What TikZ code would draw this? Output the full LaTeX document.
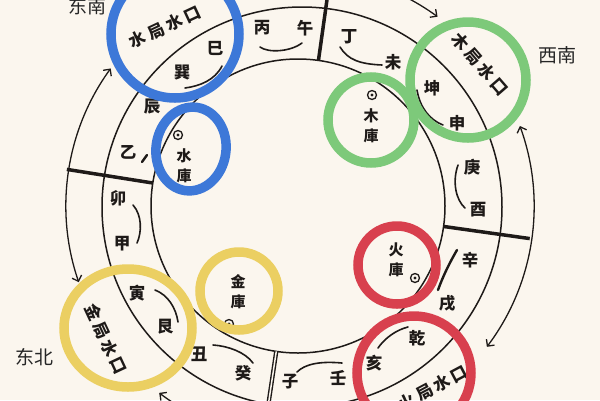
\documentclass[tikz,border=0pt]{standalone}
\usepackage{fontspec}
\newfontfamily\cjk{Noto Sans CJK SC}
\usetikzlibrary{arrows.meta,calc}
\definecolor{bg}{HTML}{FBF6EE}
\definecolor{ringblue}{HTML}{3D78D8}
\definecolor{ringgreen}{HTML}{7DC97A}
\definecolor{ringred}{HTML}{D8404E}
\definecolor{ringyellow}{HTML}{EBCF62}
\definecolor{ink}{HTML}{1E1A18}
\begin{document}
\begin{tikzpicture}[x=1pt,y=-1pt,
  mtn/.style={inner sep=0pt,font=\cjk\bfseries\fontsize{16.5}{16.5}\selectfont,text=ink},
  ku/.style={inner sep=0pt,align=center,font=\cjk\bfseries\fontsize{15}{20}\selectfont,text=ink},
  kou/.style={inner sep=0pt,font=\cjk\bfseries\fontsize{16.5}{16.5}\selectfont,text=ink},
  dirlabel/.style={inner sep=0pt,font=\cjk\fontsize{19}{19}\selectfont,text=black!85},
  ringline/.style={line width=1.5pt,draw=ink},
  pairarc/.style={line width=1.6pt,draw=ink,line cap=round},
  divider/.style={line width=3.5pt,draw=ink},
  arrowarc/.style={line width=1.3pt,draw=ink},
  barb/.tip={Straight Barb[length=5pt,width=10pt,line width=1.3pt]},
  zhu/.style={circle,draw=ink,line width=1.3pt,minimum size=9pt,inner sep=0pt},
  hl/.style={line width=9.5pt}
]
\useasboundingbox (0,0) rectangle (600,400);
\fill[bg] (0,0) rectangle (600,400);
\clip (0,0) rectangle (600,400);

\coordinate (C) at (298,206);
\coordinate (M) at (302,207);
\coordinate (A) at (300,206);

% rings
\draw[ringline] (C) circle[radius=147];
\draw[ringline] (M) circle[radius=200];

% dividers
\draw[divider] ($(C)+(-82:147)$) -- ($(C)+(-82:240)$);
\draw[divider] ($(C)+(-171:147)$) -- ($(C)+(-171:234)$);
\draw[divider] ($(C)+(8:147)$) -- ($(C)+(8:234)$);
\draw[divider,double=bg,double distance=1.5pt,line width=1.4pt] ($(C)+(98.5:147)$) -- ($(C)+(98.5:240)$);

% outer arrow arcs
\draw[arrowarc,barb-barb] ($(A)+(-144:234)$) arc[start angle=-144,end angle=-199,radius=234];
\draw[arrowarc,barb-barb] ($(A)+(-20:234)$) arc[start angle=-20,end angle=37,radius=234];
\draw[arrowarc,-barb] ($(A)+(-115:234)$) arc[start angle=-115,end angle=-54,radius=234];
\draw[arrowarc,-barb] ($(A)+(-298:234)$) arc[start angle=-298,end angle=-233,radius=234];

% 24 mountains
\node[mtn] (bing) at (262,28) {丙};
\node[mtn] (wu) at (305,28) {午};
\node[mtn] (ding) at (349,37) {丁};
\node[mtn] (wei) at (393,62) {未};
\node[mtn] (kun) at (432,88) {坤};
\node[mtn] (shen) at (457,123) {申};
\node[mtn] (geng) at (472,167) {庚};
\node[mtn] (you) at (478,210) {酉};
\node[mtn] (xin) at (470,260) {辛};
\node[mtn] (xu) at (447,303) {戌};
\node[mtn] (qian) at (417,338) {乾};
\node[mtn] (hai) at (374,363) {亥};
\node[mtn] (ren) at (338,378) {壬};
\node[mtn] (zi) at (290,382) {子};
\node[mtn] (gui) at (243,373) {癸};
\node[mtn] (chou) at (199,354) {丑};
\node[mtn] (gen) at (165,327) {艮};
\node[mtn] (yin) at (137,293) {寅};
\node[mtn] (jia) at (122,244) {甲};
\node[mtn] (mao) at (118,198) {卯};
\node[mtn] (yi) at (128,152) {乙};
\node[mtn] (chen) at (152,107) {辰};
\node[mtn] (xun) at (182,73) {巽};
\node[mtn] (si) at (215,48) {巳};

% pair arcs
\draw[pairarc] (260,47) .. controls (268,53) and (290,52) .. (302,43);
\draw[pairarc] (340,47) .. controls (348,60) and (360,64) .. (382,65);
\draw[pairarc] (417,90) .. controls (420,108) and (430,120) .. (443,125);
\draw[pairarc] (458,165) .. controls (452,182) and (456,200) .. (465,208);
\draw[pairarc,line width=2.4pt] (457,250) .. controls (450,262) and (443,276) .. (438,290);
\draw[pairarc] (408,327) .. controls (396,330) and (385,338) .. (378,348);
\draw[pairarc] (297,372) .. controls (305,364) and (320,361) .. (342,363);
\draw[pairarc] (213,345) .. controls (228,346) and (245,352) .. (253,363);
\draw[pairarc] (155,290) .. controls (168,295) and (176,308) .. (178,322);
\draw[pairarc] (133,205) .. controls (142,215) and (142,232) .. (137,243);
\draw[pairarc] (185,88) .. controls (200,86) and (215,80) .. (222,66);
\draw[pairarc,line width=2.4pt] (142,162) -- (147,155);

% treasuries
\node[zhu] (zshui) at (178,135) {};
\fill[ink] (zshui.center) circle[radius=1.6];
\node[ku] (shuiku) at (184,166) {水\\庫};
\node[zhu] (zmu) at (372,95) {};
\fill[ink] (zmu.center) circle[radius=1.6];
\node[ku] (muku) at (371,126) {木\\庫};
\node[zhu] (zhuo) at (415,278) {};
\fill[ink] (zhuo.center) circle[radius=1.6];
\node[ku] (huoku) at (396,260) {火\\庫};
\node[zhu] (zjin) at (229,324) {};
\fill[ink] (zjin.center) circle[radius=1.6];
\node[ku] (jinku) at (238,292) {金\\庫};

% water exits
\node[kou,rotate=25] (shuikou) at (165,27) {水\kern3.5pt局\kern3.5pt水\kern3.5pt口};
\node[kou,rotate=-49] (mukou) at (480,64) {木\kern3.5pt局\kern3.5pt水\kern3.5pt口};
\node[kou,rotate=-65] (jinkou) at (106,339) {金\kern3pt局\kern3pt水\kern3pt口};
\node[kou,rotate=28] (huokou) at (433,388) {火\kern3pt局\kern3pt水\kern3pt口};

% directions
\node[dirlabel] (dse) at (87,6) {东南};
\node[dirlabel] (dsw) at (557,55) {西南};
\node[dirlabel] (dne) at (35,357) {东北};

% highlight rings
\draw[hl,ringblue] (175,34) circle[radius=64];
\draw[hl,ringblue] (191,149) circle[x radius=35,y radius=42,rotate=-8];
\draw[hl,ringgreen] (468,80) circle[radius=58];
\draw[hl,ringgreen] (371,120) circle[radius=43];
\draw[hl,ringred] (397,265) circle[radius=39];
\draw[hl,ringred] (414,373) circle[radius=57];
\draw[hl,ringyellow] (128,328) circle[x radius=64,y radius=59];
\draw[hl,ringyellow] (239,291) circle[radius=39];
\end{tikzpicture}
\end{document}
